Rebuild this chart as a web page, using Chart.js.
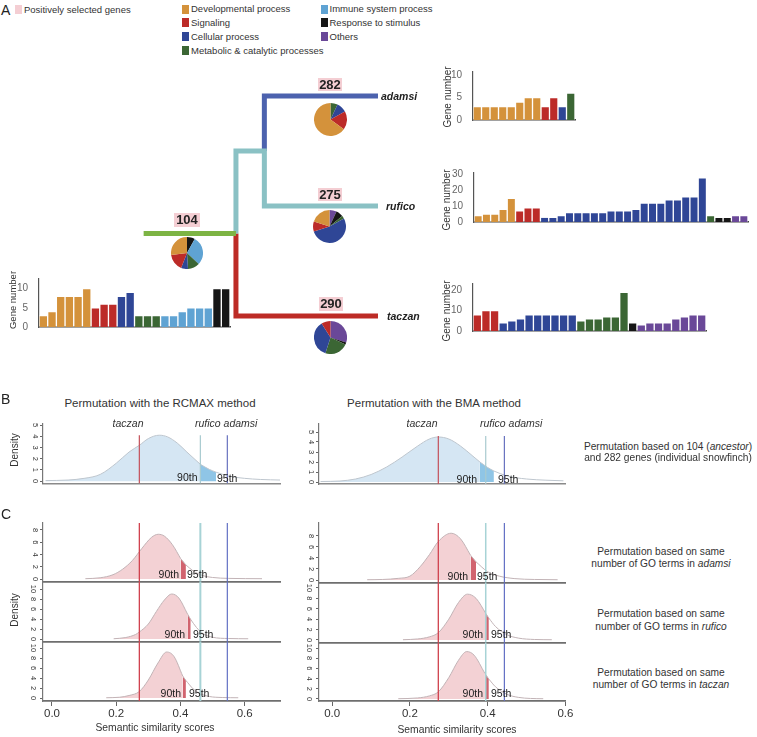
<!DOCTYPE html>
<html lang="en">
<head>
<meta charset="utf-8">
<title>Snowfinch GO terms and permutation tests</title>
<script src="https://cdn.jsdelivr.net/npm/chart.js@4.4.1/dist/chart.umd.min.js"></script>
<style>
  html, body { margin: 0; background: #fff; }
  #fig { position: relative; width: 757px; height: 737px; overflow: hidden;
         font-family: "Liberation Sans", Arial, sans-serif; color: #333; }
  #fig canvas { position: absolute; }
  .t { position: absolute; white-space: nowrap; line-height: 1; }
  .sq { position: absolute; width: 7px; height: 9px; }
  .num { position: absolute; background: #F4CED3; color: #222; font-weight: bold;
         font-size: 13px; text-align: center; }
  .narrow { font-family: "Liberation Sans Narrow", "Arial Narrow", "Liberation Sans", sans-serif; }
</style>
</head>
<body>
<div id="fig"></div>
<script>
const CAT = {
  dev: '#D4923B', sig: '#BC2B28', cel: '#2F4696', met: '#3B6634',
  imm: '#5FA3D3', res: '#161616', oth: '#6A4898',
};

// ---- A: gene number per GO term ----
const ancestorGenes  = [3, 4, 8, 8, 8, 10, 5, 6, 6, 8, 9, 3, 3, 3, 3, 3, 4, 5, 5, 5, 10, 10];
const ancestorGroups = ['dev','dev','dev','dev','dev','dev','sig','sig','sig','cel','cel',
                        'met','met','met','imm','imm','imm','imm','imm','imm','res','res'];
const adamsiGenes    = [3, 3, 3, 3, 3, 4, 5, 5, 3, 5, 3, 6];
const adamsiGroups   = ['dev','dev','dev','dev','dev','dev','dev','dev','sig','sig','cel','met'];
const ruficoGenes    = [4, 5, 5, 8, 15, 7, 9, 9,
                        3, 3, 4, 6, 6, 6, 6, 6, 7, 7, 7, 8, 12, 12, 12, 14, 14, 16, 16, 28,
                        4, 3, 3, 4, 4];
const ruficoGroups   = ['dev','dev','dev','dev','dev','sig','sig','sig',
                        'cel','cel','cel','cel','cel','cel','cel','cel','cel','cel',
                        'cel','cel','cel','cel','cel','cel','cel','cel','cel','cel',
                        'met','res','res','oth','oth'];
const taczanGenes    = [8, 10, 10, 4, 5, 6, 8, 8, 8, 8, 8, 8, 5, 6, 6, 7, 7, 19, 4,
                        3, 4, 4, 4, 6, 7, 8, 8];
const taczanGroups   = ['sig','sig','sig','cel','cel','cel','cel','cel','cel','cel','cel','cel',
                        'met','met','met','met','met','met','res',
                        'oth','oth','oth','oth','oth','oth','oth','oth'];

// pies: share of categories, clockwise from 12 o'clock
const ancestorPieGroups = ['res', 'imm', 'met', 'cel', 'sig', 'dev'];
const ancestorPieShare  = [8, 29, 12, 7, 17, 27];
const adamsiPieGroups   = ['met', 'cel', 'sig', 'dev'];
const adamsiPieShare    = [7, 10, 18, 65];
const ruficoPieGroups   = ['oth', 'res', 'met', 'cel', 'sig', 'dev'];
const ruficoPieShare    = [7, 7, 3, 53, 10, 20];
const taczanPieGroups   = ['oth', 'res', 'met', 'cel', 'sig'];
const taczanPieShare    = [30, 2, 23, 36, 9];

// tree: rows of tips (adamsi, rufico, taczan) and node depths
const tipRow      = [1, 2, 3];
const nodeDepth   = [-0.65, 0, 0.2, 1];   // stem start, ancestor, adamsi+rufico node, tips
const innerRow    = 1.5;
const ancestorRow = 2.25;

// ---- B: permutation densities ----
const rcmaxX   = [-0.02, 0.05, 0.10, 0.15, 0.20, 0.24, 0.272, 0.30, 0.334, 0.36, 0.39, 0.42,
                  0.462, 0.49, 0.511, 0.55, 0.60, 0.65, 0.71];
const rcmaxY   = [0.05, 0.1, 0.25, 0.6, 1.6, 2.6, 3.2, 3.8, 4.1, 3.95, 3.4, 2.6,
                  1.5, 1.05, 0.8, 0.45, 0.25, 0.15, 0.1];
const rcmaxCut = [0.462, 0.511];
const bmaX     = [-0.03, 0.02, 0.06, 0.10, 0.14, 0.18, 0.22, 0.25, 0.273, 0.30, 0.33, 0.36,
                  0.38, 0.40, 0.416, 0.45, 0.50, 0.55, 0.595];
const bmaY     = [0.05, 0.1, 0.3, 0.75, 1.5, 2.5, 3.6, 4.3, 4.5, 4.3, 3.6, 2.65,
                  2.0, 1.45, 1.1, 0.6, 0.3, 0.18, 0.12];
const bmaCut   = [0.38, 0.416];

// observed scores: taczan, rufico, adamsi
const rcmaxObs = [0.272, 0.462, 0.546];
const bmaObs   = [0.273, 0.395, 0.443];

// ---- C: permutations on same number of GO terms ----
const rcmaxAdX   = [0.104, 0.15, 0.19, 0.22, 0.25, 0.28, 0.31, 0.331, 0.35, 0.375, 0.401, 0.417,
                    0.44, 0.47, 0.50, 0.55, 0.654];
const rcmaxAdY   = [0.05, 0.2, 0.7, 1.6, 3.0, 5.0, 6.8, 7.3, 7.0, 5.6, 3.3, 2.3,
                    1.3, 0.55, 0.25, 0.1, 0.05];
const rcmaxAdCut = [0.401, 0.417];
const rcmaxRuX   = [0.192, 0.23, 0.26, 0.272, 0.30, 0.325, 0.35, 0.373, 0.395, 0.422, 0.432,
                    0.45, 0.47, 0.50, 0.55, 0.611];
const rcmaxRuY   = [0.05, 0.3, 0.9, 1.4, 3.0, 5.5, 7.8, 9.0, 8.2, 5.0, 3.9,
                    2.3, 1.1, 0.35, 0.1, 0.05];
const rcmaxRuCut = [0.422, 0.432];
const rcmaxTaX   = [0.169, 0.21, 0.24, 0.272, 0.30, 0.33, 0.357, 0.38, 0.407, 0.417,
                    0.44, 0.46, 0.49, 0.53, 0.58];
const rcmaxTaY   = [0.05, 0.15, 0.5, 1.3, 3.6, 7.0, 9.2, 8.3, 4.4, 3.5,
                    1.8, 0.9, 0.3, 0.1, 0.05];
const rcmaxTaCut = [0.407, 0.417];

const bmaAdX   = [0.09, 0.13, 0.17, 0.20, 0.226, 0.25, 0.273, 0.306, 0.33, 0.356, 0.37,
                  0.40, 0.43, 0.47, 0.52, 0.58];
const bmaAdY   = [0.05, 0.1, 0.3, 0.7, 2.4, 4.6, 7.0, 8.5, 7.5, 4.5, 3.3,
                  1.5, 0.7, 0.25, 0.1, 0.05];
const bmaAdCut = [0.356, 0.37];
const bmaRuX   = [0.182, 0.22, 0.25, 0.273, 0.30, 0.325, 0.348, 0.37, 0.396, 0.403,
                  0.42, 0.45, 0.48, 0.52, 0.565];
const bmaRuY   = [0.05, 0.2, 0.6, 1.4, 4.0, 7.2, 8.8, 8.0, 5.0, 4.2,
                  2.6, 1.0, 0.35, 0.1, 0.05];
const bmaRuCut = [0.396, 0.403];
const bmaTaX   = [0.17, 0.22, 0.25, 0.273, 0.30, 0.325, 0.346, 0.365, 0.393, 0.403,
                  0.42, 0.45, 0.48, 0.51, 0.543];
const bmaTaY   = [0.05, 0.2, 0.6, 1.4, 4.2, 7.6, 9.3, 8.6, 5.0, 3.9,
                  2.4, 0.9, 0.3, 0.1, 0.05];
const bmaTaCut = [0.393, 0.403];

const scoreTicks = [0, 0.2, 0.4, 0.6];
const densTicksB = [0, 1, 2, 3, 4, 5];
const densTicks8 = [0, 2, 4, 6, 8];
const densTicks10 = [0, 2, 4, 6, 8, 10];

Chart.defaults.font.family = '"Liberation Sans", Arial, sans-serif';
Chart.defaults.animation = false;
Chart.defaults.responsive = false;
Chart.defaults.events = [];
Chart.defaults.plugins.legend.display = false;
Chart.defaults.plugins.tooltip.enabled = false;

const fig = document.getElementById('fig');

function makeCanvas(x, y, w, h) {
  const c = document.createElement('canvas');
  c.width = w; c.height = h;
  c.style.left = x + 'px'; c.style.top = y + 'px';
  c.style.width = w + 'px'; c.style.height = h + 'px';
  fig.appendChild(c);
  return c;
}

function txt(html, x, y, o = {}) {
  const d = document.createElement('div');
  d.className = 't' + (o.cls ? ' ' + o.cls : '');
  d.innerHTML = html;
  d.style.left = x + 'px';
  d.style.top = y + 'px';
  d.style.fontSize = (o.size || 10) + 'px';
  if (o.bold) d.style.fontWeight = 'bold';
  if (o.italic) d.style.fontStyle = 'italic';
  if (o.color) d.style.color = o.color;
  const ax = { left: '0', center: '-50%', right: '-100%' }[o.align || 'left'];
  d.style.transform = `translate(${ax}, -50%)` + (o.rotate ? ` rotate(${o.rotate}deg)` : '');
  fig.appendChild(d);
}

function square(x, y, color) {
  const d = document.createElement('div');
  d.className = 'sq';
  d.style.left = x + 'px'; d.style.top = y + 'px'; d.style.background = color;
  fig.appendChild(d);
}

function numBox(label, x, y, w, h) {
  const d = document.createElement('div');
  d.className = 'num';
  d.textContent = label;
  Object.assign(d.style, { left: x + 'px', top: y + 'px', width: w + 'px', height: h + 'px', lineHeight: h + 'px' });
  fig.appendChild(d);
}

// box = canvas rect, area = wanted chart area (page px)
function barChart(box, area, values, groups, yMax, yTicks) {
  const canvas = makeCanvas(box.x, box.y, box.w, box.h);
  new Chart(canvas, {
    type: 'bar',
    data: {
      labels: values.map((_, i) => i + 1),
      datasets: [{
        data: values,
        backgroundColor: groups.map(g => CAT[g]),
        borderColor: 'rgba(255,255,255,0.45)',
        borderWidth: 1,
        barPercentage: 1,
        categoryPercentage: 1,
      }],
    },
    options: {
      layout: { padding: { top: area.t - box.y, right: box.x + box.w - area.r, left: 0, bottom: 0 } },
      scales: {
        x: {
          ticks: { display: false },
          grid: { display: false },
          border: { color: '#444', width: 1.5 },
          afterFit: s => { s.height = box.y + box.h - area.b; },
        },
        y: {
          min: 0, max: yMax,
          afterBuildTicks: s => { s.ticks = yTicks.map(v => ({ value: v })); },
          ticks: { color: '#666', font: { size: 10 }, padding: 3, autoSkip: false },
          grid: { display: false },
          border: { color: '#555', width: 1.2 },
          afterFit: s => { s.width = area.l - box.x; },
        },
      },
    },
  });
}

function pieChart(cx, cy, d, groups, share) {
  const canvas = makeCanvas(Math.round(cx - d / 2), Math.round(cy - d / 2), d, d);
  new Chart(canvas, {
    type: 'pie',
    data: { labels: groups, datasets: [{ data: share, backgroundColor: groups.map(g => CAT[g]), borderWidth: 0 }] },
    options: { layout: { padding: 0 } },
  });
}

function densityChart(box, area, c) {
  const canvas = makeCanvas(box.x, box.y, box.w, box.h);
  const pts = c.xs.map((x, i) => ({ x, y: c.ys[i] }));
  const [p90, p95] = c.cut;
  const curve = (data, fillColor) => ({
    data,
    fill: fillColor ? 'origin' : false,
    backgroundColor: fillColor || 'transparent',
    borderColor: c.outline,
    borderWidth: 1,
    pointRadius: 0,
    cubicInterpolationMode: 'monotone',
    order: 2,
  });
  const datasets = [
    curve(pts.filter(p => p.x <= p90), c.light),
    curve(pts.filter(p => p.x >= p90 && p.x <= p95), c.dark),
    curve(pts.filter(p => p.x >= p95), null),
  ];
  c.obs.forEach((v, i) => datasets.push({
    data: [{ x: v, y: c.obsFrom }, { x: v, y: c.obsTo }],
    borderColor: c.obsColors[i],
    borderWidth: c.obsWidths[i],
    pointRadius: 0,
    fill: false,
    order: 1,
  }));
  new Chart(canvas, {
    type: 'line',
    data: { datasets },
    options: {
      layout: { padding: { top: area.t - box.y, right: box.x + box.w - area.r, left: 0, bottom: 0 } },
      scales: {
        x: {
          type: 'linear', min: c.xMin, max: c.xMax,
          afterBuildTicks: s => { s.ticks = scoreTicks.map(v => ({ value: v })); },
          ticks: { display: !!c.xLabels, color: '#333', font: { size: 11.5 }, padding: 1,
                   maxRotation: 0, autoSkip: false, callback: v => v.toFixed(1) },
          grid: { display: !!c.xLabels, drawOnChartArea: false, tickLength: 5, color: '#666' },
          border: { color: c.axisColor, width: c.axisWidth },
          afterFit: s => { s.height = box.y + box.h - area.b; },
        },
        y: {
          min: c.yMin, max: c.yMax,
          afterBuildTicks: s => { s.ticks = c.yTicks.map(v => ({ value: v })); },
          ticks: { color: '#333', font: { size: 7.5 }, padding: 3, minRotation: -90, maxRotation: -90,
                   crossAlign: 'center', autoSkip: false },
          grid: { drawOnChartArea: false, tickLength: 3, color: '#666' },
          border: { color: '#777', width: 1.2 },
          afterFit: s => { s.width = area.l - box.x; },
        },
      },
    },
  });
}

// ---------- panel A ----------
txt('A', 1, 10, { size: 14, color: '#222' });
square(15, 5, '#F4CED3');
txt('Positively selected genes', 24, 10, { size: 9.5, cls: 'narrow' });
const legendCol2 = [['dev', 'Developmental process'], ['sig', 'Signaling'], ['cel', 'Cellular process'],
                    ['met', 'Metabolic &amp; catalytic processes']];
const legendCol3 = [['imm', 'Immune system process'], ['res', 'Response to stimulus'], ['oth', 'Others']];
legendCol2.forEach(([k, s], i) => { square(182, 4.5 + i * 13.9, CAT[k]); txt(s, 191, 9 + i * 13.9, { size: 9.5, cls: 'narrow' }); });
legendCol3.forEach(([k, s], i) => { square(321, 4.5 + i * 13.9, CAT[k]); txt(s, 329.5, 9 + i * 13.9, { size: 9.5, cls: 'narrow' }); });

// tree
{
  const [stem, anc, inner, tip] = nodeDepth;
  const canvas = makeCanvas(130, 80, 270, 250);
  const branch = (data, color) => ({ data, borderColor: color, borderWidth: 5, pointRadius: 0, fill: false,
                                     borderJoinStyle: 'miter', borderCapStyle: 'butt', showLine: true });
  new Chart(canvas, {
    type: 'scatter',
    data: {
      datasets: [
        branch([{ x: stem, y: ancestorRow }, { x: anc, y: ancestorRow }], '#7DB444'),
        branch([{ x: anc, y: ancestorRow }, { x: anc, y: innerRow }, { x: inner, y: innerRow },
                { x: inner, y: tipRow[1] }, { x: tip, y: tipRow[1] }], '#8AC1C4'),
        branch([{ x: inner, y: innerRow }, { x: inner, y: tipRow[0] }, { x: tip, y: tipRow[0] }], '#4C62AE'),
        branch([{ x: anc, y: ancestorRow }, { x: anc, y: tipRow[2] }, { x: tip, y: tipRow[2] }], '#BD2B26'),
      ],
    },
    options: {
      layout: { padding: 0 },
      scales: {
        x: { type: 'linear', display: false, min: -0.746, max: 1.155 },
        y: { type: 'linear', display: false, min: 0.8545, max: 3.127, reverse: true },
      },
    },
  });
}
txt('adamsi', 381, 96, { size: 10.5, bold: true, italic: true, color: '#222' });
txt('rufico', 386, 206, { size: 10.5, bold: true, italic: true, color: '#222' });
txt('taczan', 387, 316, { size: 10.5, bold: true, italic: true, color: '#222' });

numBox('104', 174, 213, 26, 14);
numBox('282', 318, 78, 24, 13);
numBox('275', 318, 188, 24, 13);
numBox('290', 319, 297, 24, 14);

pieChart(186.5, 253, 32, ancestorPieGroups, ancestorPieShare);
pieChart(330, 119.5, 33, adamsiPieGroups, adamsiPieShare);
pieChart(329.5, 226.5, 33, ruficoPieGroups, ruficoPieShare);
pieChart(330, 337, 33, taczanPieGroups, taczanPieShare);

barChart({ x: 0, y: 270, w: 232, h: 66 }, { l: 39, t: 278.5, r: 230, b: 327 },
         ancestorGenes, ancestorGroups, 12.5, [0, 5, 10]);
barChart({ x: 430, y: 62, w: 150, h: 67 }, { l: 473, t: 71.8, r: 575, b: 120 },
         adamsiGenes, adamsiGroups, 10.7, [0, 5, 10]);
barChart({ x: 430, y: 164, w: 322, h: 67 }, { l: 474, t: 173, r: 748, b: 222 },
         ruficoGenes, ruficoGroups, 31, [0, 10, 20, 30]);
barChart({ x: 430, y: 274, w: 280, h: 66 }, { l: 473, t: 283.7, r: 706, b: 331 },
         taczanGenes, taczanGroups, 23.3, [0, 10, 20]);
txt('Gene number', 13, 300, { size: 9.5, align: 'center', rotate: -90 });
txt('Gene number', 448, 97, { size: 10, align: 'center', rotate: -90 });
txt('Gene number', 447, 200, { size: 10, align: 'center', rotate: -90 });
txt('Gene number', 447, 311, { size: 10, align: 'center', rotate: -90 });

// ---------- panel B ----------
const blue = { light: '#D5E6F3', dark: '#8FC5E6', outline: '#BEC6CE' };
const pink = { light: '#F3D1D4', dark: '#D1646F', outline: '#C2B3B6' };
const obsColorsB = ['#C4505A', '#A8CACF', '#6872BF'];
const obsColorsC = ['#D0414D', '#A7D3D6', '#6270C4'];

txt('B', 1, 399, { size: 14, color: '#222' });
txt('Permutation with the RCMAX method', 160, 404, { size: 11.5, align: 'center' });
txt('Permutation with the BMA method', 434, 404, { size: 11.5, align: 'center' });

densityChart({ x: 0, y: 414, w: 290, h: 78 }, { l: 43, t: 424, r: 280, b: 483.4 }, {
  xs: rcmaxX, ys: rcmaxY, cut: rcmaxCut, ...blue,
  obs: rcmaxObs, obsFrom: -0.2, obsTo: 4.1, obsColors: obsColorsB, obsWidths: [1.2, 1.2, 1.2],
  xMin: -0.028, xMax: 0.71, yMin: -0.2, yMax: 5.1, yTicks: densTicksB,
  axisColor: '#8a8a8a', axisWidth: 1.6,
});
densityChart({ x: 276, y: 414, w: 300, h: 78 }, { l: 319, t: 424, r: 565.4, b: 484 }, {
  xs: bmaX, ys: bmaY, cut: bmaCut, ...blue,
  obs: bmaObs, obsFrom: -0.2, obsTo: 4.6, obsColors: obsColorsB, obsWidths: [1.2, 1.2, 1.2],
  xMin: -0.034, xMax: 0.6, yMin: -0.2, yMax: 5.8, yTicks: densTicksB,
  axisColor: '#8a8a8a', axisWidth: 1.6,
});
txt('<i>taczan</i>', 128, 423, { size: 10.5, align: 'center' });
txt('<i>rufico adamsi</i>', 195, 423, { size: 10.5 });
txt('<i>taczan</i>', 422, 423, { size: 10.5, align: 'center' });
txt('<i>rufico adamsi</i>', 480, 423, { size: 10.5 });
txt('90th', 197.5, 477, { size: 10.5, align: 'right', color: '#222' });
txt('95th', 217, 478, { size: 10.5, color: '#222' });
txt('90th', 477, 479, { size: 10.5, align: 'right', color: '#222' });
txt('95th', 498, 479, { size: 10.5, color: '#222' });
txt('Density', 15, 450, { size: 10, align: 'center', rotate: -90 });
txt('Permutation based on 104 (<i>ancestor</i>)', 668, 447, { size: 10.2, align: 'center' });
txt('and 282 genes (individual snowfinch)', 668, 457.5, { size: 10.2, align: 'center' });

// ---------- panel C ----------
txt('C', 1, 514, { size: 14, color: '#222' });
txt('Density', 15, 610, { size: 10, align: 'center', rotate: -90 });

const cLeft = [
  { box: { x: 0, y: 513, w: 290, h: 78 },  area: { l: 43, t: 523, r: 280, b: 581.7 },
    xs: rcmaxAdX, ys: rcmaxAdY, cut: rcmaxAdCut, yMin: -0.44, yMax: 9.14, yTicks: densTicks8 },
  { box: { x: 0, y: 571, w: 290, h: 79 },  area: { l: 43, t: 581.7, r: 280, b: 641.7 },
    xs: rcmaxRuX, ys: rcmaxRuY, cut: rcmaxRuCut, yMin: -0.54, yMax: 11.46, yTicks: densTicks10 },
  { box: { x: 0, y: 631, w: 290, h: 106 }, area: { l: 43, t: 641.7, r: 280, b: 701 },
    xs: rcmaxTaX, ys: rcmaxTaY, cut: rcmaxTaCut, yMin: -0.6, yMax: 11.26, yTicks: densTicks10, xLabels: true },
];
const cRight = [
  { box: { x: 276, y: 513, w: 302, h: 78 },  area: { l: 319, t: 523, r: 565.4, b: 582.7 },
    xs: bmaAdX, ys: bmaAdY, cut: bmaAdCut, yMin: -0.49, yMax: 10.36, yTicks: densTicks8 },
  { box: { x: 276, y: 572, w: 302, h: 79 },  area: { l: 319, t: 582.7, r: 565.4, b: 642.7 },
    xs: bmaRuX, ys: bmaRuY, cut: bmaRuCut, yMin: -0.52, yMax: 11.0, yTicks: densTicks10 },
  { box: { x: 276, y: 632, w: 302, h: 105 }, area: { l: 319, t: 642.7, r: 565.4, b: 701 },
    xs: bmaTaX, ys: bmaTaY, cut: bmaTaCut, yMin: -0.4, yMax: 11.04, yTicks: densTicks10, xLabels: true },
];
cLeft.forEach(p => densityChart(p.box, p.area, {
  ...p, ...pink, obs: rcmaxObs, obsFrom: p.yMin, obsTo: p.yMax, obsColors: obsColorsC, obsWidths: [1.3, 2, 1.2],
  xMin: -0.028, xMax: 0.71, axisColor: '#6e6e6e', axisWidth: 1.8,
}));
cRight.forEach(p => densityChart(p.box, p.area, {
  ...p, ...pink, obs: bmaObs, obsFrom: p.yMin, obsTo: p.yMax, obsColors: obsColorsC, obsWidths: [1.3, 1.5, 1.2],
  xMin: -0.034, xMax: 0.6, axisColor: '#6e6e6e', axisWidth: 1.8,
}));

[[179, 187, 574], [185, 193, 634], [181, 189, 693],
 [468, 477, 576], [483, 491, 634], [483, 491, 693]].forEach(([r90, l95, y]) => {
  txt('90th', r90, y, { size: 10.5, align: 'right', color: '#222' });
  txt('95th', l95, y, { size: 10.5, color: '#222' });
});

txt('Semantic similarity scores', 155, 728, { size: 10.3, align: 'center' });
txt('Semantic similarity scores', 457, 730, { size: 10.3, align: 'center' });

[['adamsi', 552, 564], ['rufico', 614, 627], ['taczan', 673, 684.5]].forEach(([sp, y1, y2]) => {
  txt('Permutation based on same', 661, y1, { size: 10.2, align: 'center' });
  txt(`number of GO terms in <i>${sp}</i>`, 661, y2, { size: 10.2, align: 'center' });
});
</script>
</body>
</html>
